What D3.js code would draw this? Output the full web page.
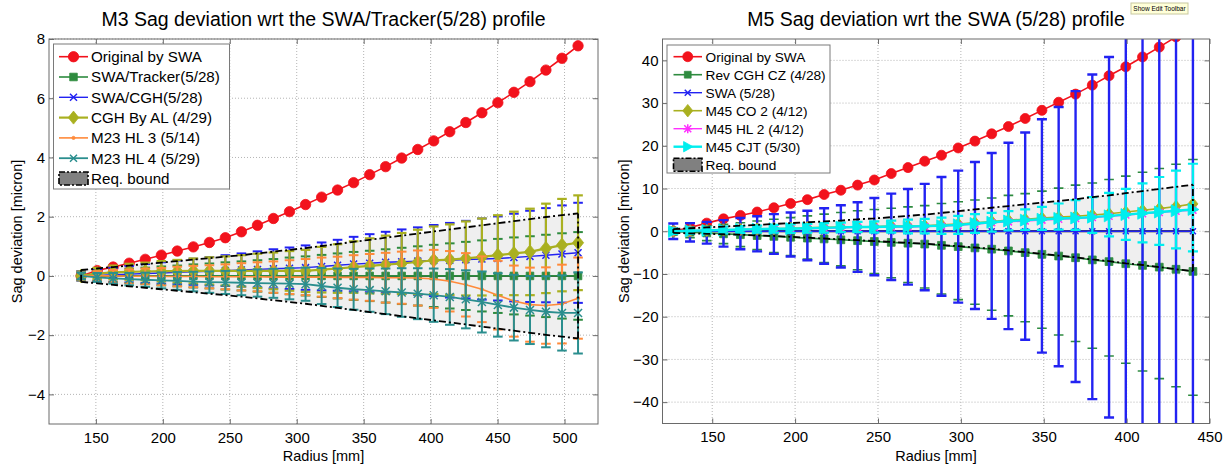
<!DOCTYPE html>
<html><head><meta charset="utf-8">
<script src="https://cdn.jsdelivr.net/npm/d3@7"></script>
<style>
body{margin:0;background:#fff}
text{font-family:"Liberation Sans",Arial,Helvetica,sans-serif;fill:#000}
</style>
</head><body>
<script>
// ---------------- LEFT PANEL DATA (M3) ----------------
const leftRadius = [139.0,151.0,162.9,174.9,186.9,198.9,210.8,222.8,234.8,246.7,258.7,270.7,282.6,294.6,306.6,318.6,330.5,342.5,354.5,366.4,378.4,390.4,402.3,414.3,426.3,438.3,450.2,462.2,474.2,486.1,498.1,510.1];
const m3Original = [0,0.18,0.30,0.43,0.56,0.70,0.84,0.98,1.13,1.29,1.49,1.71,1.94,2.17,2.41,2.66,2.90,3.15,3.42,3.69,3.98,4.27,4.56,4.87,5.18,5.51,5.85,6.20,6.56,6.95,7.35,7.77];
const m3Tracker = [0,0,0,0,0,0,0,0,0,0,0,0,0,0,0,0,0,0,0,0,0,0,0,0,0,0,0,0,0,0,0,0];
const m3TrackerErr = [0.14,0.18,0.21,0.25,0.28,0.32,0.35,0.39,0.42,0.46,0.49,0.53,0.57,0.62,0.66,0.71,0.76,0.81,0.85,0.90,0.95,1.00,1.05,1.10,1.15,1.20,1.25,1.30,1.34,1.39,1.44,1.48];
const m3Cgh = [0,0.02,0.04,0.06,0.08,0.10,0.12,0.14,0.16,0.18,0.20,0.22,0.24,0.26,0.28,0.32,0.36,0.40,0.43,0.46,0.48,0.50,0.52,0.53,0.55,0.57,0.59,0.62,0.66,0.70,0.74,0.78];
const m3CghErr = [0.16,0.20,0.24,0.28,0.32,0.36,0.40,0.44,0.48,0.52,0.56,0.61,0.66,0.70,0.75,0.81,0.86,0.92,0.98,1.03,1.09,1.14,1.20,1.26,1.31,1.37,1.42,1.48,1.54,1.59,1.64,1.69];
const m3Al = [0,0.08,0.12,0.14,0.15,0.16,0.16,0.17,0.17,0.17,0.17,0.17,0.17,0.17,0.17,0.21,0.25,0.30,0.34,0.38,0.42,0.47,0.53,0.55,0.59,0.64,0.70,0.76,0.81,0.93,1.04,1.12];
const m3AlErr = [0.15,0.19,0.23,0.27,0.30,0.34,0.38,0.42,0.46,0.49,0.53,0.58,0.62,0.67,0.71,0.77,0.82,0.87,0.93,0.98,1.03,1.09,1.14,1.19,1.25,1.30,1.35,1.41,1.46,1.51,1.56,1.60];
const m3Hl3 = [0,0,0,-0.01,-0.01,-0.02,-0.02,-0.02,-0.03,-0.03,-0.03,-0.03,-0.04,-0.04,-0.04,-0.04,-0.05,-0.05,-0.05,-0.06,-0.06,-0.07,-0.10,-0.18,-0.30,-0.45,-0.65,-0.85,-0.97,-1.00,-0.95,-0.75];
const m3Hl3Err = [0.13,0.16,0.20,0.23,0.26,0.29,0.33,0.36,0.39,0.42,0.46,0.49,0.53,0.57,0.61,0.66,0.70,0.75,0.79,0.84,0.88,0.93,0.98,1.02,1.07,1.11,1.16,1.20,1.25,1.29,1.33,1.37];
const m3Hl4 = [0,-0.05,-0.08,-0.11,-0.13,-0.15,-0.17,-0.19,-0.21,-0.22,-0.23,-0.24,-0.25,-0.26,-0.28,-0.34,-0.40,-0.45,-0.48,-0.52,-0.56,-0.60,-0.65,-0.71,-0.79,-0.88,-0.98,-1.07,-1.15,-1.21,-1.25,-1.25];
const m3Hl4Err = [0.12,0.15,0.18,0.21,0.24,0.27,0.30,0.33,0.36,0.39,0.42,0.46,0.49,0.53,0.56,0.61,0.65,0.69,0.73,0.77,0.82,0.86,0.90,0.94,0.98,1.03,1.07,1.11,1.15,1.20,1.27,1.37];
const m3Bound = [0.20,0.25,0.30,0.35,0.40,0.45,0.50,0.55,0.60,0.65,0.70,0.76,0.82,0.88,0.94,1.01,1.08,1.15,1.22,1.29,1.36,1.43,1.50,1.57,1.64,1.71,1.78,1.85,1.92,1.99,2.05,2.11];
const leftXTicks = [150,200,250,300,350,400,450,500];
const leftYTicks = [-4,-2,0,2,4,6,8];
const leftLegend = ["Original by SWA","SWA/Tracker(5/28)","SWA/CGH(5/28)","CGH By AL (4/29)","M23 HL 3 (5/14)","M23 HL 4 (5/29)","Req. bound"];

// ---------------- RIGHT PANEL DATA (M5) ----------------
const rightRadius = [126.5,136.6,146.7,156.8,167.0,177.1,187.2,197.3,207.4,217.5,227.6,237.7,247.8,258.0,268.1,278.2,288.3,298.4,308.5,318.6,328.7,338.8,348.9,359.0,369.2,379.3,389.4,399.5,409.6,419.7,429.8,440.0];
const m5Original = [0,0.9,1.9,2.9,3.7,4.5,5.5,6.5,7.4,8.6,9.6,10.8,12.0,13.5,14.9,16.4,17.8,19.5,21.1,22.8,24.5,26.4,28.3,30.2,32.1,34.2,36.4,38.5,40.8,43.1,45.5,48.0];
const m5RevCgh = [0,-0.2,-0.4,-0.6,-0.8,-1.0,-1.2,-1.4,-1.6,-1.8,-2.0,-2.2,-2.4,-2.6,-2.8,-3.0,-3.3,-3.6,-3.9,-4.2,-4.6,-5.0,-5.4,-5.8,-6.2,-6.7,-7.1,-7.6,-8.0,-8.4,-8.9,-9.4];
const m5RevCghTop = [0.8,1.0,1.3,1.6,2.0,2.4,2.8,3.2,3.6,4.0,4.4,4.8,5.1,5.4,5.7,6.0,6.5,6.9,7.3,7.8,8.4,8.8,9.4,10.1,10.8,11.3,12.1,12.9,13.8,14.7,15.7,16.8];
const m5RevCghBottom = [-0.8,-1.5,-2.2,-2.9,-3.6,-4.3,-5.0,-5.7,-6.5,-7.3,-8.1,-9.0,-9.9,-10.9,-12.0,-13.3,-14.7,-16.0,-17.1,-18.5,-19.8,-21.2,-22.7,-24.3,-25.8,-27.4,-29.2,-30.9,-32.7,-34.5,-36.4,-38.4];
const m5Swa = [0,0,0,0,0,0,0,0,0,0,0,0,0,0,0,0,0,0,0,0,0,0,0,0,0,0,0,0,0,0,0,0];
const m5SwaTop = [1.8,1.9,2.2,2.6,3.1,3.5,4.0,4.4,4.8,5.4,6.1,6.8,7.8,8.8,9.9,11.1,12.7,14.2,16.2,18.3,20.7,23.1,26.2,29.1,32.8,36.7,40.8,45.5,50.5,56,62,68];
const m5SwaBottom = [-1.8,-2.4,-2.9,-3.6,-4.2,-4.7,-5.3,-5.9,-6.8,-7.6,-8.5,-9.5,-10.3,-11.4,-12.5,-13.8,-15.1,-16.7,-18.2,-20.5,-22.9,-25.4,-28.4,-31.6,-35.3,-39.3,-43.6,-48,-53,-58,-63,-68];
const m5Co2 = [0,0.1,0.2,0.3,0.4,0.5,0.6,0.7,0.8,0.9,1.0,1.0,1.1,1.2,1.2,1.3,1.5,1.7,2.0,2.3,2.6,2.8,3.1,3.3,3.5,3.8,4.1,4.5,4.9,5.3,5.8,6.4];
const m5Hl2 = [0,0.1,0.2,0.3,0.3,0.4,0.5,0.6,0.6,0.7,0.8,0.9,0.9,1.0,1.0,1.1,1.2,1.4,1.7,2.0,2.2,2.4,2.6,2.8,3.0,3.2,3.5,3.8,4.1,4.4,4.7,4.9];
const m5Cjt = [0,0.1,0.2,0.3,0.4,0.5,0.6,0.6,0.7,0.8,0.9,1.0,1.0,1.1,1.1,1.2,1.3,1.5,1.8,2.1,2.4,2.6,2.8,3.0,3.1,3.3,3.6,3.9,4.2,4.5,4.8,5.1];
const m5CjtTop = [0.6,0.8,0.9,1.1,1.2,1.3,1.5,1.6,1.7,1.9,2.0,2.2,2.3,2.5,2.7,2.9,3.2,3.6,4.0,4.3,4.7,5.1,5.7,6.5,7.3,8.0,9.0,9.9,11.2,12.7,14.2,15.8];
const m5CjtBottom = [-0.6,-0.6,-0.5,-0.5,-0.4,-0.3,-0.3,-0.4,-0.3,-0.3,-0.2,-0.2,-0.3,-0.3,-0.5,-0.5,-0.6,-0.6,-0.4,-0.1,0.2,0.3,0.3,0.4,0.3,-0.4,-1.2,-2.0,-2.6,-3.2,-4.0,-4.7];
const m5BoundUpper = [0.5,0.7,0.9,1.1,1.3,1.5,1.7,1.9,2.1,2.3,2.5,2.8,3.0,3.3,3.6,3.9,4.3,4.7,5.1,5.5,5.9,6.3,6.7,7.1,7.5,8.0,8.4,8.9,9.4,9.9,10.4,10.9];
const m5BoundLower = [-0.4,-0.5,-0.6,-0.7,-0.8,-1.0,-1.1,-1.3,-1.5,-1.7,-1.9,-2.1,-2.3,-2.5,-2.7,-2.9,-3.2,-3.5,-3.8,-4.1,-4.5,-4.9,-5.3,-5.7,-6.1,-6.6,-7.0,-7.5,-7.9,-8.4,-8.9,-9.3];
const rightXTicks = [150,200,250,300,350,400,450];
const rightYTicks = [-40,-30,-20,-10,0,10,20,30,40];
const rightLegend = ["Original by SWA","Rev CGH CZ (4/28)","SWA (5/28)","M45 CO 2 (4/12)","M45 HL 2 (4/12)","M45 CJT (5/30)","Req. bound"];

// ---------------- COLOURS ----------------
const C = {red:"#f2121c", green:"#2e8b3f", blue:"#2222f2", olive:"#a9b020", orange:"#ff8a3a", teal:"#2a8e8e", magenta:"#ff30ff", cyan:"#00eeee"};

const W = 1225, H = 468;
const svg = d3.select("body").append("svg").attr("width", W).attr("height", H);

function markerPath(type, s) {
  switch (type) {
    case "square": return `M${-s},${-s}h${2*s}v${2*s}h${-2*s}z`;
    case "diamond": return `M0,${-s*1.25}L${s},0L0,${s*1.25}L${-s},0z`;
    case "x": return `M${-s},${-s}L${s},${s}M${-s},${s}L${s},${-s}`;
    case "asterisk": return `M${-s},${-s}L${s},${s}M${-s},${s}L${s},${-s}M0,${-s*1.3}V${s*1.3}M${-s*1.3},0H${s*1.3}`;
    case "triright": return `M${-s*0.8},${-s}L${s},0L${-s*0.8},${s}z`;
    default: return "";
  }
}
function drawMarker(g, type, cx, cy, color, size) {
  if (type === "circle" || type === "dot") {
    g.append("circle").attr("cx", cx).attr("cy", cy).attr("r", size).attr("fill", color).attr("stroke", color).attr("stroke-width", 0.8);
  } else {
    const filled = (type === "square" || type === "diamond" || type === "triright");
    g.append("path").attr("d", markerPath(type, size)).attr("transform", `translate(${cx},${cy})`)
      .attr("fill", filled ? color : "none").attr("stroke", color).attr("stroke-width", filled ? 0.8 : 1.5);
  }
}

function drawPanel(p) {
  const x = d3.scaleLinear().domain(p.xDomain).range([p.left, p.right]);
  const y = d3.scaleLinear().domain(p.yDomain).range([p.bottom, p.top]);
  const root = svg.append("g");
  const clipId = "clip-" + p.id;
  root.append("clipPath").attr("id", clipId).append("rect")
    .attr("x", p.left).attr("y", p.top).attr("width", p.right - p.left).attr("height", p.bottom - p.top);

  // grid
  const grid = root.append("g").attr("stroke", "#b4b4b4").attr("stroke-width", 1).attr("stroke-dasharray", "1,2");
  p.xTicks.forEach(t => grid.append("line").attr("x1", x(t)).attr("x2", x(t)).attr("y1", p.top).attr("y2", p.bottom));
  p.yTicks.forEach(t => grid.append("line").attr("y1", y(t)).attr("y2", y(t)).attr("x1", p.left).attr("x2", p.right));

  const plot = root.append("g").attr("clip-path", `url(#${clipId})`);

  // requirement band fill
  const band = p.radius.map((r, i) => ({r, lo: p.boundLower[i], hi: p.boundUpper[i]}));
  plot.append("path").datum(band)
    .attr("d", d3.area().x(d => x(d.r)).y0(d => y(d.lo)).y1(d => y(d.hi)))
    .attr("fill", "#efefef").attr("stroke", "none");
  // zero line
  plot.append("line").attr("x1", x(p.radius[0])).attr("x2", x(p.radius[p.radius.length - 1]))
    .attr("y1", y(0)).attr("y2", y(0)).attr("stroke", "#000").attr("stroke-width", 1.8);

  // series
  p.series.forEach(s => {
    const g = plot.append("g");
    if (s.top) {
      const capW = s.cap;
      p.radius.forEach((r, i) => {
        const t = s.top[i], b = s.bottom[i];
        g.append("line").attr("x1", x(r)).attr("x2", x(r)).attr("y1", y(t)).attr("y2", y(b))
          .attr("stroke", s.color).attr("stroke-width", s.ebw);
        [t, b].forEach(v => g.append("line").attr("x1", x(r) - capW).attr("x2", x(r) + capW)
          .attr("y1", y(v)).attr("y2", y(v)).attr("stroke", s.color).attr("stroke-width", s.ebw));
      });
    }
    g.append("path").datum(s.values.map((v, i) => [p.radius[i], v]))
      .attr("d", d3.line().x(d => x(d[0])).y(d => y(d[1])))
      .attr("fill", "none").attr("stroke", s.color).attr("stroke-width", s.lw);
    s.values.forEach((v, i) => drawMarker(g, s.marker, x(p.radius[i]), y(v), s.color, s.ms));
  });

  // requirement band outline (dash-dot)
  const dd = "7,3,2,3";
  const n = p.radius.length - 1;
  const bl = d3.line().x(d => x(d[0])).y(d => y(d[1]));
  const outline = [
    p.radius.map((r, i) => [r, p.boundUpper[i]]),
    p.radius.map((r, i) => [r, p.boundLower[i]]),
    [[p.radius[n], p.boundLower[n]], [p.radius[n], p.boundUpper[n]]],
    [[p.radius[0], p.boundLower[0]], [p.radius[0], p.boundUpper[0]]]
  ];
  outline.forEach(pts => plot.append("path").attr("d", bl(pts))
    .attr("fill", "none").attr("stroke", "#000").attr("stroke-width", 1.8).attr("stroke-dasharray", dd));

  // axes
  const axColor = "#6a6a6a";
  const fs = p.tickFont;
  const ab = root.append("g").attr("transform", `translate(0,${p.bottom})`)
    .call(d3.axisBottom(x).tickValues(p.xTicks).tickSizeInner(-5).tickSizeOuter(0).tickPadding(8));
  const al = root.append("g").attr("transform", `translate(${p.left},0)`)
    .call(d3.axisLeft(y).tickValues(p.yTicks).tickSizeInner(-5).tickSizeOuter(0).tickPadding(4));
  const at = root.append("g").attr("transform", `translate(0,${p.top})`)
    .call(d3.axisTop(x).tickValues(p.xTicks).tickSizeInner(-5).tickSizeOuter(0).tickFormat(""));
  const ar = root.append("g").attr("transform", `translate(${p.right},0)`)
    .call(d3.axisRight(y).tickValues(p.yTicks).tickSizeInner(-5).tickSizeOuter(0).tickFormat(""));
  [ab, al, at, ar].forEach(a => {
    a.select(".domain").remove();
    a.selectAll(".tick line").attr("stroke", axColor);
    a.selectAll("text").attr("font-size", fs).attr("font-family", '"Liberation Sans",Arial,sans-serif').attr("fill", "#000");
  });
  root.append("rect").attr("x", p.left).attr("y", p.top).attr("width", p.right - p.left).attr("height", p.bottom - p.top)
    .attr("fill", "none").attr("stroke", axColor).attr("stroke-width", 1);

  // titles and labels
  root.append("text").attr("x", (p.left + p.right) / 2).attr("y", 26).attr("text-anchor", "middle")
    .attr("font-size", 19.5).text(p.title);
  root.append("text").attr("x", (p.left + p.right) / 2).attr("y", 461).attr("text-anchor", "middle")
    .attr("font-size", 14.5).text("Radius [mm]");
  root.append("text").attr("transform", `translate(${p.ylabX},${(p.top + p.bottom) / 2}) rotate(-90)`)
    .attr("text-anchor", "middle").attr("font-size", 14.5).text("Sag deviation [micron]");

  // legend
  const L = p.legend;
  const lg = root.append("g");
  lg.append("rect").attr("x", L.x).attr("y", L.y).attr("width", L.w).attr("height", L.h)
    .attr("fill", "#fff").attr("stroke", "#7a7a7a").attr("stroke-width", 1);
  p.legendLabels.forEach((lab, i) => {
    const cy = L.row0 + i * L.dy;
    if (i < p.series.length) {
      const s = p.series[i];
      lg.append("line").attr("x1", L.lx1).attr("x2", L.lx2).attr("y1", cy).attr("y2", cy)
        .attr("stroke", s.color).attr("stroke-width", s.lw);
      drawMarker(lg, s.marker, (L.lx1 + L.lx2) / 2, cy, s.color, s.lms || s.ms);
    } else {
      lg.append("rect").attr("x", L.lx1).attr("y", cy - 6.5).attr("width", L.lx2 - L.lx1).attr("height", 13)
        .attr("fill", "#808080").attr("stroke", "#000").attr("stroke-width", 1.6).attr("stroke-dasharray", "6,2,2,2");
    }
    lg.append("text").attr("x", L.tx).attr("y", cy).attr("dy", "0.36em").attr("font-size", L.fs).text(lab);
  });
}

drawPanel({
  id: "m3", left: 49, right: 598, top: 39, bottom: 424,
  xDomain: [115, 525], yDomain: [-5, 8], xTicks: leftXTicks, yTicks: leftYTicks, tickFont: 15,
  title: "M3 Sag deviation wrt the SWA/Tracker(5/28) profile", ylabX: 22,
  radius: leftRadius, boundUpper: m3Bound, boundLower: m3Bound.map(v => -v),
  series: [
    {values: m3Original, color: C.red, marker: "circle", ms: 5.2, lw: 1.6},
    {values: m3Tracker, top: m3Tracker.map((v, i) => v + m3TrackerErr[i]), bottom: m3Tracker.map((v, i) => v - m3TrackerErr[i]), color: C.green, marker: "square", ms: 3.8, lw: 1.6, ebw: 2, cap: 4.8},
    {values: m3Cgh, top: m3Cgh.map((v, i) => v + m3CghErr[i]), bottom: m3Cgh.map((v, i) => v - m3CghErr[i]), color: C.blue, marker: "x", ms: 3.5, lw: 1.4, ebw: 2, cap: 4.8},
    {values: m3Al, top: m3Al.map((v, i) => v + m3AlErr[i]), bottom: m3Al.map((v, i) => v - m3AlErr[i]), color: C.olive, marker: "diamond", ms: 5.6, lw: 2.2, ebw: 2.2, cap: 4.8, lms: 5.2},
    {values: m3Hl3, top: m3Hl3.map((v, i) => v + m3Hl3Err[i]), bottom: m3Hl3.map((v, i) => v - m3Hl3Err[i]), color: C.orange, marker: "dot", ms: 1.6, lw: 1.6, ebw: 2, cap: 4.8},
    {values: m3Hl4, top: m3Hl4.map((v, i) => v + m3Hl4Err[i]), bottom: m3Hl4.map((v, i) => v - m3Hl4Err[i]), color: C.teal, marker: "x", ms: 4, lw: 1.8, ebw: 2, cap: 4.8, lms: 3.5}
  ],
  legendLabels: leftLegend,
  legend: {x: 53.5, y: 44, w: 176, h: 145, row0: 56.7, dy: 20.3, lx1: 59, lx2: 88, tx: 91, fs: 15.2}
});

drawPanel({
  id: "m5", left: 662.5, right: 1209.5, top: 39, bottom: 423.5,
  xDomain: [120, 450], yDomain: [-45, 45], xTicks: rightXTicks, yTicks: rightYTicks, tickFont: 15,
  title: "M5 Sag deviation wrt the SWA (5/28) profile", ylabX: 629,
  radius: rightRadius, boundUpper: m5BoundUpper, boundLower: m5BoundLower,
  series: [
    {values: m5Original, color: C.red, marker: "circle", ms: 5, lw: 1.6},
    {values: m5RevCgh, top: m5RevCghTop, bottom: m5RevCghBottom, color: C.green, marker: "square", ms: 3.9, lw: 1.6, ebw: 1.6, cap: 4.8, lms: 3.4},
    {values: m5Swa, top: m5SwaTop, bottom: m5SwaBottom, color: C.blue, marker: "x", ms: 3, lw: 1.4, ebw: 2.4, cap: 5},
    {values: m5Co2, color: C.olive, marker: "diamond", ms: 5, lw: 1.6},
    {values: m5Hl2, color: C.magenta, marker: "asterisk", ms: 3.5, lw: 1.4},
    {values: m5Cjt, top: m5CjtTop, bottom: m5CjtBottom, color: C.cyan, marker: "triright", ms: 6, lw: 2.4, ebw: 2.2, cap: 5, lms: 5.2}
  ],
  legendLabels: rightLegend,
  legend: {x: 667, y: 45, w: 163, h: 128, row0: 56.7, dy: 18, lx1: 673.5, lx2: 702, tx: 705.5, fs: 13.7}
});

// tooltip seen in the screenshot
const tip = svg.append("g");
tip.append("rect").attr("x", 1131).attr("y", 3).attr("width", 57).attr("height", 11).attr("fill", "#ffffd8").attr("stroke", "#c8c8a0");
tip.append("text").attr("x", 1159.5).attr("y", 11).attr("text-anchor", "middle").attr("font-size", 6.5).text("Show Edit Toolbar");
</script>
</body></html>
